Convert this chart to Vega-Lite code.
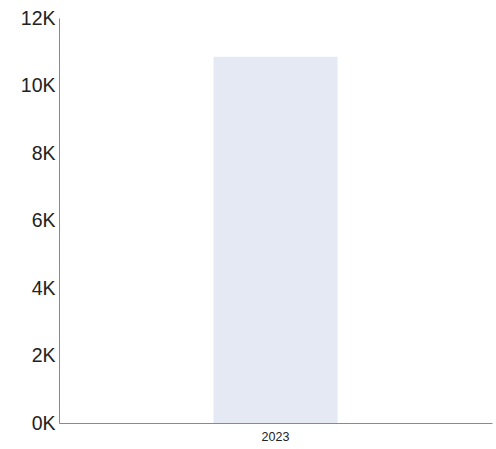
{
  "$schema": "https://vega.github.io/schema/vega-lite/v6.json",
  "autosize": {"type": "none"},
  "padding": {"left": 59, "top": 18, "right": 4, "bottom": 26},
  "width": 433,
  "height": 405,
  "background": "white",
  "data": {"values": [{"year": "2023", "value": 10850}]},
  "mark": {"type": "bar", "width": 124, "color": "#e5e9f3"},
  "encoding": {
    "x": {
      "field": "year",
      "type": "nominal",
      "axis": {
        "title": null,
        "labelAngle": 0,
        "ticks": false,
        "labelFont": "Liberation Sans",
        "labelFontSize": 12.5,
        "labelColor": "#222",
        "labelPadding": 7,
        "domainColor": "#7d8ba0",
        "domainWidth": 1
      }
    },
    "y": {
      "field": "value",
      "type": "quantitative",
      "scale": {"domain": [0, 12000], "nice": false},
      "axis": {
        "title": null,
        "values": [0, 2000, 4000, 6000, 8000, 10000, 12000],
        "labelExpr": "datum.value / 1000 + 'K'",
        "ticks": false,
        "grid": false,
        "labelFont": "Liberation Sans",
        "labelFontSize": 19.5,
        "labelColor": "#222",
        "labelPadding": 4,
        "domainColor": "#7d8ba0",
        "domainWidth": 1
      }
    }
  },
  "config": {"view": {"stroke": null}}
}
